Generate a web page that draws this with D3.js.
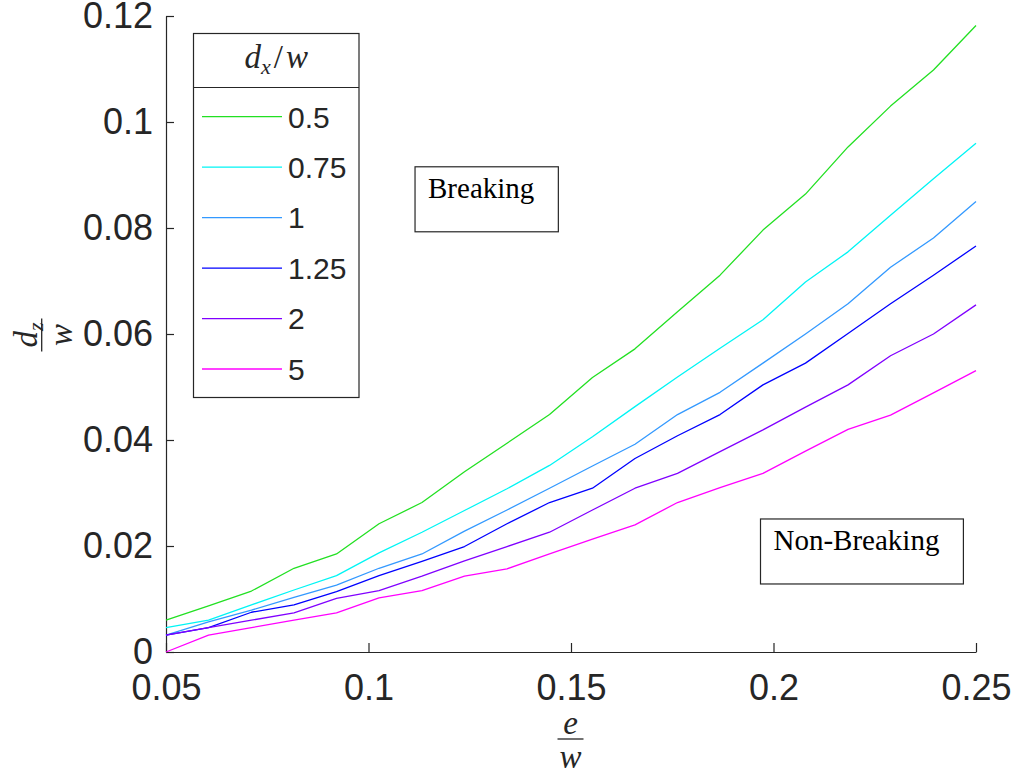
<!DOCTYPE html>
<html>
<head>
<meta charset="utf-8">
<script src="https://cdn.jsdelivr.net/npm/d3@7"></script>
<style>
  html, body { margin: 0; padding: 0; background: #fff; }
  svg { display: block; }
</style>
</head>
<body>
<svg id="chart" width="1018" height="773"></svg>
<script>
// ---- data ----
const xValues = [0.05, 0.0605, 0.0711, 0.0816, 0.0921, 0.1026, 0.1132, 0.1237, 0.1342, 0.1447,
                 0.1553, 0.1658, 0.1763, 0.1868, 0.1974, 0.2079, 0.2184, 0.2289, 0.2395, 0.25];
const seriesNames = ["0.5", "0.75", "1", "1.25", "2", "5"];
const seriesColors = ["#22e022", "#00f5f5", "#3399ff", "#0000ff", "#8000ff", "#ff00ff"];
const s050 = [0.0060, 0.0087, 0.0115, 0.0158, 0.0185, 0.0242, 0.0282, 0.0340, 0.0394, 0.0448,
              0.0518, 0.0572, 0.0642, 0.0711, 0.0796, 0.0864, 0.0953, 0.1030, 0.1098, 0.1182];
const s075 = [0.0046, 0.0060, 0.0089, 0.0117, 0.0144, 0.0187, 0.0226, 0.0267, 0.0308, 0.0352,
              0.0406, 0.0463, 0.0519, 0.0573, 0.0627, 0.0698, 0.0755, 0.0824, 0.0893, 0.0960];
const s100 = [0.0032, 0.0057, 0.0079, 0.0103, 0.0126, 0.0158, 0.0185, 0.0228, 0.0268, 0.0309,
              0.0351, 0.0392, 0.0448, 0.0490, 0.0545, 0.0600, 0.0657, 0.0726, 0.0781, 0.0850];
const s125 = [0.0032, 0.0046, 0.0075, 0.0089, 0.0114, 0.0144, 0.0171, 0.0199, 0.0242, 0.0282,
              0.0309, 0.0365, 0.0408, 0.0448, 0.0504, 0.0545, 0.0601, 0.0657, 0.0711, 0.0766];
const s200 = [0.0032, 0.0046, 0.0060, 0.0074, 0.0101, 0.0116, 0.0143, 0.0172, 0.0199, 0.0226,
              0.0268, 0.0309, 0.0337, 0.0378, 0.0419, 0.0462, 0.0504, 0.0559, 0.0600, 0.0655];
const s500 = [0.0000, 0.0032, 0.0046, 0.0060, 0.0074, 0.0102, 0.0116, 0.0143, 0.0157, 0.0185,
              0.0213, 0.0240, 0.0282, 0.0310, 0.0337, 0.0379, 0.0420, 0.0447, 0.0489, 0.0531];
const xTicks = [0.05, 0.1, 0.15, 0.2, 0.25];
const xTickLabels = ["0.05", "0.1", "0.15", "0.2", "0.25"];
const yTicks = [0, 0.02, 0.04, 0.06, 0.08, 0.1, 0.12];
const yTickLabels = ["0", "0.02", "0.04", "0.06", "0.08", "0.1", "0.12"];
const annotationTexts = ["Breaking", "Non-Breaking"];
const annotationX = [0.1147, 0.2000];
const annotationY = [0.0857, 0.01925];

// ---- layout ----
const svg = d3.select("#chart");
const plotLeft = 166, plotRight = 976, plotTop = 16, plotBottom = 652;
const axisColor = "#262626";
const sans = "'Liberation Sans', Arial, Helvetica, sans-serif";
const serif = "'Liberation Serif', 'Times New Roman', serif";

const x = d3.scaleLinear().domain([0.05, 0.25]).range([plotLeft, plotRight]);
const y = d3.scaleLinear().domain([0, 0.12]).range([plotBottom, plotTop]);

// axes
const xAxis = d3.axisBottom(x).tickValues(xTicks)
  .tickFormat((d, i) => xTickLabels[i]).tickSizeInner(-9).tickSizeOuter(0).tickPadding(22);
const yAxis = d3.axisLeft(y).tickValues(yTicks)
  .tickFormat((d, i) => yTickLabels[i]).tickSizeInner(-8).tickSizeOuter(0).tickPadding(13);

const gx = svg.append("g").attr("transform", `translate(0,${plotBottom})`).call(xAxis);
const gy = svg.append("g").attr("transform", `translate(${plotLeft},0)`).call(yAxis);
[gx, gy].forEach(g => {
  g.select(".domain").attr("stroke", axisColor).attr("stroke-width", 1.2);
  g.selectAll(".tick line").attr("stroke", axisColor).attr("stroke-width", 1.2);
  g.selectAll(".tick text").attr("fill", axisColor)
    .style("font-family", sans).style("font-size", "36px");
});
gx.selectAll(".tick text").attr("dy", "0.71em");

// lines
const allSeries = [s050, s075, s100, s125, s200, s500];
const line = d3.line().x((d, i) => x(xValues[i])).y(d => y(d));
svg.append("g").selectAll("path").data(allSeries).join("path")
  .attr("d", d => line(d))
  .attr("fill", "none")
  .attr("stroke", (d, i) => seriesColors[i])
  .attr("stroke-width", 1.3)
  .attr("stroke-linejoin", "round");

// annotations (text boxes)
annotationTexts.forEach((txt, i) => {
  const g = svg.append("g");
  const tx = x(annotationX[i]), ty = y(annotationY[i]);
  const t = g.append("text")
    .attr("x", tx).attr("y", ty)
    .style("font-family", serif).style("font-size", "29px")
    .attr("fill", "#000").text(txt);
  const bb = t.node().getBBox();
  g.insert("rect", "text")
    .attr("x", tx - 13).attr("y", ty - 31)
    .attr("width", bb.width + 37).attr("height", 65)
    .attr("fill", "#fff").attr("stroke", axisColor).attr("stroke-width", 1.2);
});

// legend
const lg = svg.append("g");
const lgX = 193.5, lgY = 33.5, lgW = 165.5, lgH = 364;
lg.append("rect").attr("x", lgX).attr("y", lgY).attr("width", lgW).attr("height", lgH)
  .attr("fill", "#fff").attr("stroke", axisColor).attr("stroke-width", 1.2);
lg.append("line").attr("x1", lgX).attr("x2", lgX + lgW).attr("y1", 87.5).attr("y2", 87.5)
  .attr("stroke", axisColor).attr("stroke-width", 1.2);
const lt = lg.append("text").attr("x", lgX + lgW / 2).attr("y", 68).attr("text-anchor", "middle")
  .style("font-family", serif).style("font-size", "33px").style("font-style", "italic").attr("fill", axisColor);
lt.append("tspan").text("d");
lt.append("tspan").attr("dy", 6).style("font-size", "22px").text("x");
lt.append("tspan").attr("dy", -6).attr("dx", 3).style("font-style", "normal").text("/");
lt.append("tspan").attr("dx", 3).text("w");
const rowY = d3.scaleLinear().domain([0, 5]).range([116.7, 369]);
seriesNames.forEach((name, i) => {
  lg.append("line").attr("x1", 202).attr("x2", 282)
    .attr("y1", rowY(i)).attr("y2", rowY(i))
    .attr("stroke", seriesColors[i]).attr("stroke-width", 1.3);
  lg.append("text").attr("x", 288).attr("y", rowY(i)).attr("dy", "0.36em")
    .style("font-family", sans).style("font-size", "30px").attr("fill", axisColor).text(name);
});

// x label: e / w
const xl = svg.append("g").attr("transform", `translate(${(plotLeft + plotRight) / 2 - 0.5},739)`);
xl.append("text").attr("x", 0).attr("y", -5).attr("text-anchor", "middle")
  .style("font-family", serif).style("font-style", "italic").style("font-size", "33px")
  .attr("fill", axisColor).text("e");
xl.append("line").attr("x1", -13).attr("x2", 13).attr("y1", 0).attr("y2", 0)
  .attr("stroke", axisColor).attr("stroke-width", 1.3);
xl.append("text").attr("x", 0).attr("y", 29).attr("text-anchor", "middle")
  .style("font-family", serif).style("font-style", "italic").style("font-size", "33px")
  .attr("fill", axisColor).text("w");

// y label: d_z / w (rotated)
const yl = svg.append("g").attr("transform", `translate(41.7,335) rotate(-90)`);
const yn = yl.append("text").attr("x", 0).attr("y", -5).attr("text-anchor", "middle")
  .style("font-family", serif).style("font-style", "italic").style("font-size", "33px")
  .attr("fill", axisColor);
yn.append("tspan").text("d");
yn.append("tspan").attr("dy", 6).style("font-size", "22px").text("z");
yl.append("line").attr("x1", -16.5).attr("x2", 16.5).attr("y1", 0).attr("y2", 0)
  .attr("stroke", axisColor).attr("stroke-width", 1.3);
yl.append("text").attr("x", 0).attr("y", 30).attr("text-anchor", "middle")
  .style("font-family", serif).style("font-style", "italic").style("font-size", "33px")
  .attr("fill", axisColor).text("w");
</script>
</body>
</html>
